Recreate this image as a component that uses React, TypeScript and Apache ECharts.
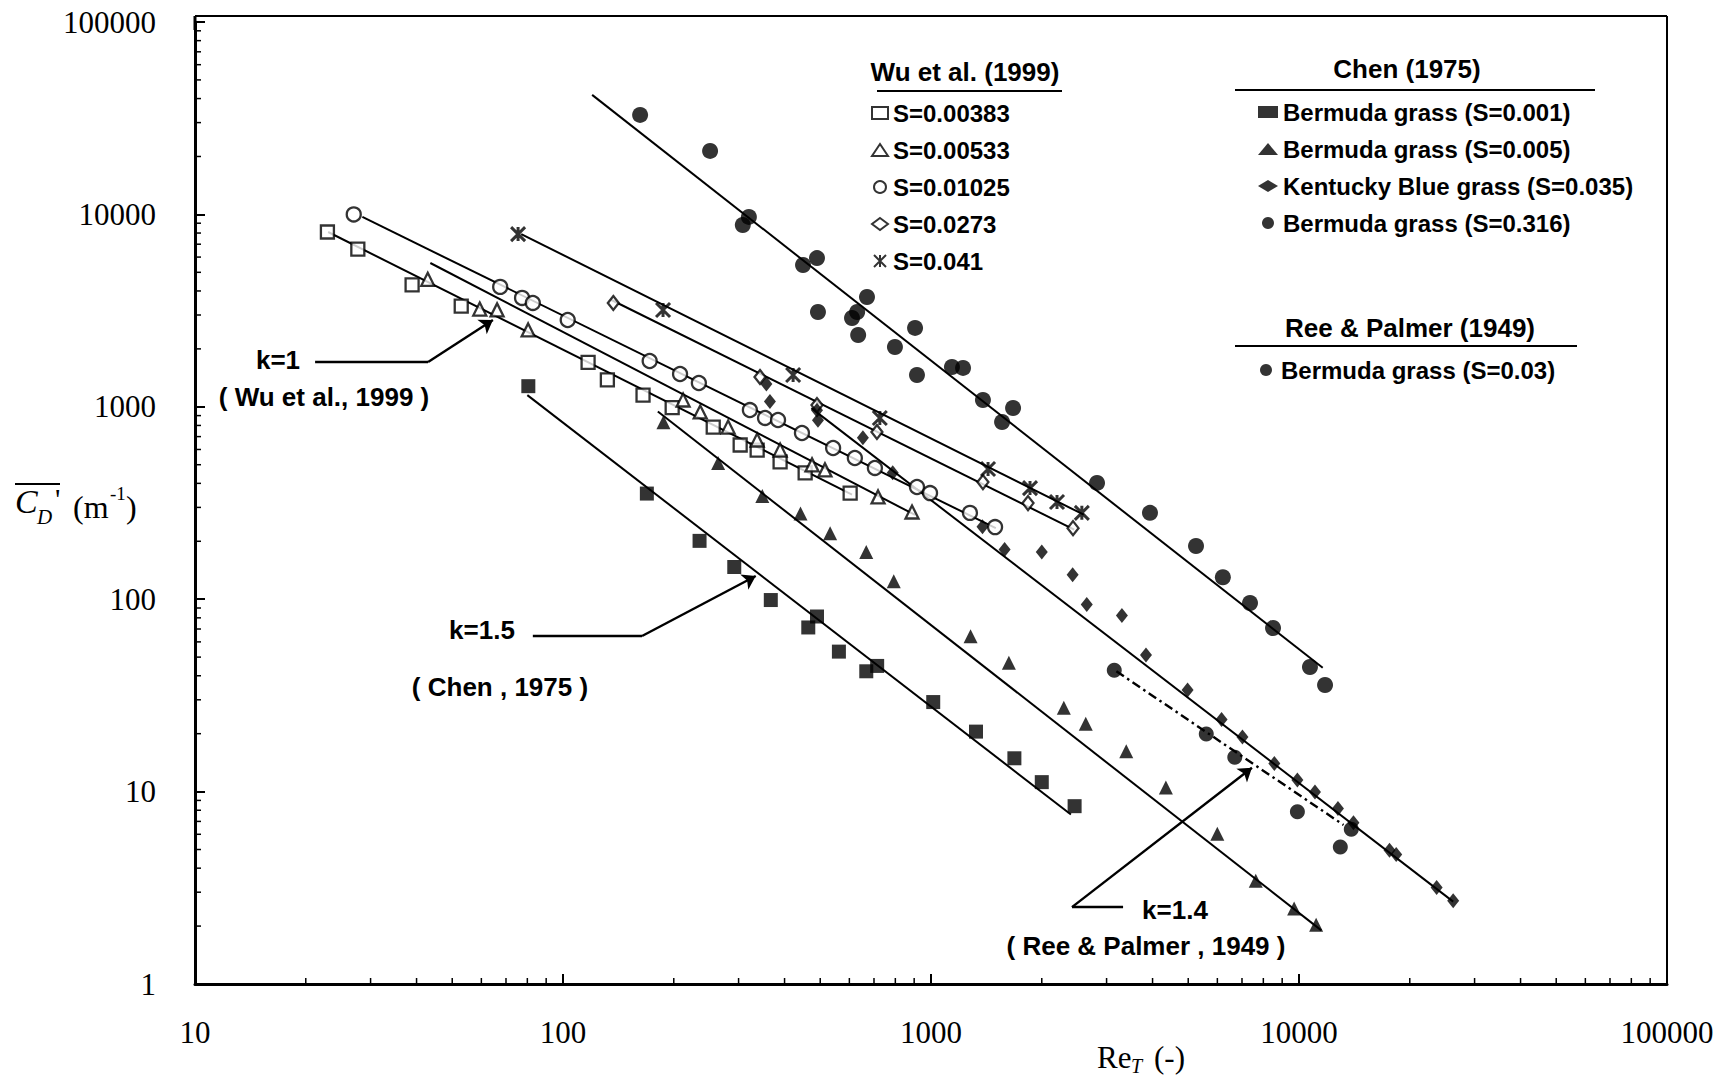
import React, { useEffect, useRef } from 'react';
import * as echarts from 'echarts';

// ---- axis ticks ----
const xMajorTicks = [10, 100, 1000, 10000, 100000];
const yMajorTicks = [1, 10, 100, 1000, 10000, 100000];
const minorMultipliers = [2, 3, 4, 5, 6, 7, 8, 9];

// ---- Wu et al. (1999) : open symbols ----
const wuS00383 = [[22.9, 8100], [27.7, 6600], [38.9, 4300], [52.9, 3340], [117, 1700], [132, 1380], [165, 1150], [198, 990], [256, 785], [303, 633], [337, 596], [389, 517], [455, 453], [603, 356]];
const wuS00533 = [[42.9, 4600], [59.4, 3220], [66.2, 3190], [80.4, 2510], [212, 1085], [236, 940], [281, 785], [337, 672], [389, 596], [475, 499], [515, 470], [718, 340], [888, 284]];
const wuS01025 = [[27, 10000], [67.5, 4200], [77.4, 3680], [82.8, 3465], [103, 2826], [172, 1730], [208, 1481], [234, 1330], [322, 962], [354, 875], [384, 854], [446, 731], [542, 611], [621, 542], [704, 481], [916, 383], [994, 356], [1276, 281], [1493, 237]];
const wuS0273 = [[137, 3465], [343, 1429], [490, 1021], [713, 740], [1384, 406], [1835, 316], [2432, 234]];
const wuS041 = [[75.5, 7900], [187, 3186], [422, 1463], [726, 875], [1429, 475], [1858, 378], [2200, 320], [2570, 281]];

// ---- Chen (1975) : filled symbols ----
const chenS0001 = [[80.5, 1280], [169, 354], [235, 201], [292, 147], [367, 99], [464, 71.3], [490, 81.3], [562, 53.4], [667, 42.2], [714, 45], [1014, 29.2], [1325, 20.5], [1685, 14.9], [2000, 11.2], [2456, 8.4]];
const chenS0005 = [[187.5, 830], [264, 511], [348, 344], [442, 279], [532, 220], [667, 176], [792, 124], [1281, 64.2], [1628, 46.8], [2296, 27.3], [2633, 22.5], [3393, 16.2], [4347, 10.5], [5998, 6.04], [7628, 3.44], [9700, 2.47], [11130, 2.03]];
const chenS0035 = [[357, 1314], [365, 1065], [490, 959], [493, 852], [653, 691], [787, 454], [1380, 238], [1585, 181], [2000, 176], [2426, 134], [2650, 93.9], [3302, 82.4], [3839, 51.3], [4980, 33.7], [6160, 23.7], [7020, 19.2], [8570, 14], [9900, 11.5], [11050, 9.95], [12760, 8.17], [14060, 6.89], [17620, 4.96], [18370, 4.71], [23660, 3.17], [26240, 2.71]];
const chenS0316 = [[162, 32900], [251, 21370], [308, 8810], [320, 9700], [449, 5460], [490, 5930], [493, 3110], [610, 2895], [630, 3110], [634, 2361], [670, 3720], [798, 2046], [905, 2570], [916, 1463], [1140, 1610], [1222, 1592], [1384, 1085], [1560, 834], [1671, 986], [2826, 402], [3936, 281], [5250, 189], [6210, 130], [7360, 95.5], [8500, 70.8], [10710, 44.4], [11770, 35.8]];

// ---- Ree & Palmer (1949) ----
const reeS003 = [[3148, 42.7], [5598, 19.9], [6691, 15.1], [9900, 7.85], [12950, 5.16], [13870, 6.37]];

// ---- fitted lines (end points) ----
const fitWu00383 = [[23, 8100], [610, 350]];
const fitWu00533 = [[43.6, 5590], [905, 274]];
const fitWu01025 = [[28.5, 9700], [1500, 234]];
const fitWu0273 = [[135, 3600], [2450, 230]];
const fitWu041 = [[77, 7900], [2600, 275]];
const fitChen0001 = [[80, 1150], [2400, 7.6]];
const fitChen0005 = [[181, 946], [11500, 1.9]];
const fitChen0035 = [[473, 984], [26240, 2.68]];
const fitChen0316 = [[120, 41800], [11600, 44]];
const fitRee003 = [[3190, 42.2], [13210, 6.71]];

// ---- annotation arrows (data coordinates): horizontal leg, then pointer ----
const arrowK1 = [[21.2, 1710], [43, 1710], [64.5, 2826]];
const arrowK15 = [[82.8, 64.4], [164, 64.4], [334, 132]];
const arrowK14 = [[3326, 2.51], [2416, 2.51], [7450, 13.3]];

const wuNames = ['S=0.00383', 'S=0.00533', 'S=0.01025', 'S=0.0273', 'S=0.041'];
const chenNames = ['Bermuda grass (S=0.001)', 'Bermuda grass (S=0.005)', 'Kentucky Blue grass (S=0.035)', 'Bermuda grass (S=0.316)'];
const reeNames = ['Bermuda grass (S=0.03)'];

const ASTERISK = 'path://M0,0L10,10M10,0L0,10M5,0L5,10';
const SANS = '"Liberation Sans", Arial, sans-serif';
const SERIF = '"Liberation Serif", "Times New Roman", serif';

export default function App() {
  const ref = useRef<HTMLDivElement>(null);

  useEffect(() => {
    if (!ref.current) return;
    const chart = echarts.init(ref.current, undefined, { renderer: 'svg' });

    const minorData: number[][] = [];
    for (let i = 0; i < xMajorTicks.length - 1; i++) {
      minorMultipliers.forEach((m) => minorData.push([m * xMajorTicks[i], 1, 0]));
    }
    for (let i = 0; i < yMajorTicks.length - 1; i++) {
      minorMultipliers.forEach((m) => minorData.push([10, m * yMajorTicks[i], 1]));
    }

    const openStyle = { color: '#ffffff', borderColor: '#000000', borderWidth: 2.3 };
    const filledStyle = { color: '#000000', borderColor: '#000000', borderWidth: 0 };

    const scatter = (name: string, data: number[][], symbol: string, size: number | number[], style: any) => ({
      type: 'scatter',
      name,
      data,
      symbol,
      symbolSize: size,
      itemStyle: style,
      z: 4,
      silent: true,
    });
    const fit = (data: number[][], dashed = false) => ({
      type: 'line',
      data,
      symbol: 'none',
      silent: true,
      z: 3,
      lineStyle: { color: '#000', width: dashed ? 2.4 : 2, type: dashed ? [9, 4, 2.5, 4] : 'solid' },
    });

    const textEl = (text: string, x: number, y: number, font: string, align = 'center') => ({
      type: 'text',
      x,
      y,
      silent: true,
      style: {
        text,
        font,
        fill: '#000',
        textAlign: align,
        align,
        textVerticalAlign: 'middle',
        verticalAlign: 'middle',
      },
    });
    const seg = (x1: number, y1: number, x2: number, y2: number, w = 2) => ({
      type: 'line',
      silent: true,
      shape: { x1, y1, x2, y2 },
      style: { stroke: '#000', lineWidth: w },
    });

    const legendBase = {
      orient: 'vertical',
      padding: 0,
      itemHeight: 12,
      itemGap: 11,
      selectedMode: false,
      textStyle: { fontFamily: SANS, fontWeight: 'bold', fontSize: 24, color: '#000', lineHeight: 26 },
    };

    chart.setOption({
      animation: false,
      backgroundColor: '#ffffff',
      grid: {
        left: 195,
        right: 53,
        top: 22,
        bottom: 92,
        show: false,
        containLabel: false,
        outerBoundsMode: 'none',
      },
      xAxis: {
        type: 'log',
        logBase: 10,
        min: 10,
        max: 100000,
        axisLine: { show: true, lineStyle: { color: '#000', width: 3 } },
        axisTick: { show: true, inside: true, length: 10, lineStyle: { color: '#000', width: 2 } },
        splitLine: { show: false },
        axisLabel: {
          color: '#000',
          fontFamily: SERIF,
          fontSize: 31,
          margin: 33,
          formatter: (v: number) => String(Math.round(v)),
        },
      },
      yAxis: {
        type: 'log',
        logBase: 10,
        min: 1,
        max: 100000,
        axisLine: { show: true, lineStyle: { color: '#000', width: 3 } },
        axisTick: { show: true, inside: true, length: 10, lineStyle: { color: '#000', width: 2 } },
        splitLine: { show: false },
        axisLabel: {
          color: '#000',
          fontFamily: SERIF,
          fontSize: 31,
          margin: 39,
          formatter: (v: number) => String(Math.round(v)),
        },
      },
      legend: [
        { ...legendBase, data: wuNames, left: 871, top: 100, itemWidth: 16 },
        { ...legendBase, data: chenNames, left: 1258, top: 99, itemWidth: 20 },
        { ...legendBase, data: reeNames, left: 1260, top: 357, itemWidth: 20 },
      ],
      series: [
        // minor ticks of the log axes
        {
          type: 'custom',
          silent: true,
          clip: false,
          z: 10,
          data: minorData,
          renderItem: (_p: any, api: any) => {
            const v0 = api.value(0);
            const v1 = api.value(1);
            const which = api.value(2);
            const pt = api.coord([v0, v1]);
            if (which === 0) {
              return { type: 'line', shape: { x1: pt[0], y1: pt[1], x2: pt[0], y2: pt[1] - 6 }, style: { stroke: '#000', lineWidth: 1.5 } };
            }
            return { type: 'line', shape: { x1: pt[0], y1: pt[1], x2: pt[0] + 6, y2: pt[1] }, style: { stroke: '#000', lineWidth: 1.5 } };
          },
        },
        fit(fitWu00383),
        fit(fitWu00533),
        fit(fitWu01025),
        fit(fitWu0273),
        fit(fitWu041),
        fit(fitChen0001),
        fit(fitChen0005),
        fit(fitChen0035),
        fit(fitChen0316),
        fit(fitRee003, true),
        scatter(wuNames[0], wuS00383, 'rect', 13, openStyle),
        scatter(wuNames[1], wuS00533, 'triangle', 13, openStyle),
        scatter(wuNames[2], wuS01025, 'circle', 14, openStyle),
        scatter(wuNames[3], wuS0273, 'diamond', [11, 14], openStyle),
        scatter(wuNames[4], wuS041, ASTERISK, 14, { color: '#000', borderColor: '#000', borderWidth: 3 }),
        scatter(chenNames[0], chenS0001, 'rect', 14, filledStyle),
        scatter(chenNames[1], chenS0005, 'triangle', 14, filledStyle),
        scatter(chenNames[2], chenS0035, 'diamond', [12, 15], filledStyle),
        scatter(chenNames[3], chenS0316, 'circle', 16, filledStyle),
        scatter(reeNames[0], reeS003, 'circle', 15, filledStyle),
        // annotation arrows
        {
          type: 'lines',
          coordinateSystem: 'cartesian2d',
          silent: true,
          z: 5,
          symbol: ['none', 'none'],
          lineStyle: { color: '#000', width: 2.4, opacity: 1 },
          data: [
            { coords: [arrowK1[0], arrowK1[1]] },
            { coords: [arrowK15[0], arrowK15[1]] },
            { coords: [arrowK14[0], arrowK14[1]] },
          ],
        },
        {
          type: 'lines',
          coordinateSystem: 'cartesian2d',
          silent: true,
          z: 5,
          symbol: ['none', 'arrow'],
          symbolSize: 13,
          lineStyle: { color: '#000', width: 2.4, opacity: 1 },
          data: [
            { coords: [arrowK1[1], arrowK1[2]] },
            { coords: [arrowK15[1], arrowK15[2]] },
            { coords: [arrowK14[1], arrowK14[2]] },
          ],
        },
      ],
      graphic: [
        // plot frame: top and right borders
        seg(195, 16, 1667, 16, 2),
        seg(1667, 16, 1667, 984, 2),
        seg(195, 16, 195, 30, 3),
        // legend headings
        textEl('Wu et al. (1999)', 965, 72, `bold 26px ${SANS}`),
        seg(877, 91, 1062, 91),
        textEl('Chen (1975)', 1407, 69, `bold 26px ${SANS}`),
        seg(1235, 90, 1595, 90),
        textEl('Ree & Palmer (1949)', 1410, 328, `bold 26px ${SANS}`),
        seg(1235, 346, 1577, 346),
        // annotations
        textEl('k=1', 278, 360, `bold 26px ${SANS}`),
        textEl('( Wu et al., 1999 )', 324, 397, `bold 26px ${SANS}`),
        textEl('k=1.5', 482, 630, `bold 26px ${SANS}`),
        textEl('( Chen , 1975 )', 500, 687, `bold 26px ${SANS}`),
        textEl('k=1.4', 1175, 910, `bold 26px ${SANS}`),
        textEl('( Ree & Palmer , 1949 )', 1146, 946, `bold 26px ${SANS}`),
        // y-axis title: overline C_D ' (m^-1)
        seg(15, 484, 60, 484, 2),
        textEl('C', 15, 501, `italic 34px ${SERIF}`, 'left'),
        textEl('D', 37, 517, `italic 21px ${SERIF}`, 'left'),
        textEl("'", 55, 498, `30px ${SERIF}`, 'left'),
        textEl('(m', 73, 507, `32px ${SERIF}`, 'left'),
        textEl('-1', 110, 493, `19px ${SERIF}`, 'left'),
        textEl(')', 126, 507, `32px ${SERIF}`, 'left'),
        // x-axis title: Re_T (-)
        textEl('Re', 1097, 1057, `31px ${SERIF}`, 'left'),
        textEl('T', 1131, 1066, `italic 20px ${SERIF}`, 'left'),
        textEl('(-)', 1154, 1057, `31px ${SERIF}`, 'left'),
      ],
    } as any);

    return () => {
      chart.dispose();
    };
  }, []);

  return (
    <div
      ref={ref}
      style={{ position: 'fixed', left: 0, top: 0, width: 1720, height: 1076, background: '#fff' }}
    />
  );
}
